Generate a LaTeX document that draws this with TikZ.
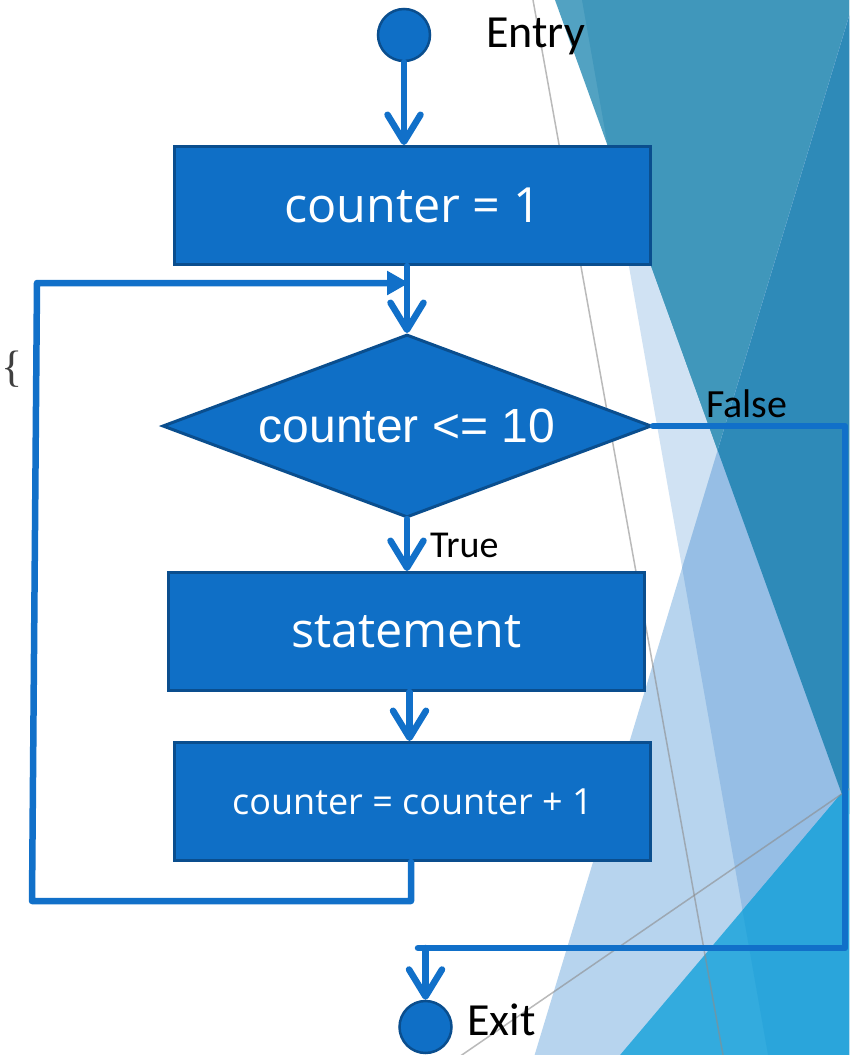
\documentclass[tikz,border=0pt]{standalone}
\usepackage{fontspec}
\setmainfont{Carlito}
\newfontfamily\arialf{Liberation Sans}
\newfontfamily\boxf{Open Sans}
\newfontfamily\seriff{Liberation Serif}
\usetikzlibrary{arrows.meta,shapes.geometric}
\definecolor{fillb}{HTML}{0F6FC6}
\definecolor{edgeb}{HTML}{0A4E8E}
\definecolor{lineb}{HTML}{1170C9}
\definecolor{paleP}{HTML}{D0E2F3}
\definecolor{tealA}{HTML}{52A2C2}
\definecolor{tealB}{HTML}{4097BB}
\definecolor{lbW}{HTML}{B7D4EE}
\definecolor{lbP}{HTML}{96BEE5}
\definecolor{tealD}{HTML}{2E8AB8}
\definecolor{cyW}{HTML}{33ABDE}
\definecolor{cyP}{HTML}{2AA5DB}
\definecolor{braceg}{HTML}{404040}
\begin{document}
\begin{tikzpicture}[x=1pt,y=-1pt,
  boxn/.style={draw=edgeb, line width=3pt, fill=fillb, text=white, inner sep=0pt,
    minimum width=476pt, minimum height=118pt, font=\boxf\fontsize{48.5}{48.5}\selectfont},
  circn/.style={circle, draw=edgeb, line width=2.5pt, fill=fillb, minimum size=52pt, inner sep=0pt},
  conn/.style={draw=lineb, line width=6.5pt, line cap=round, line join=round},
  vtip/.style={-{Straight Barb[length=27pt,width=33pt,round]}},
  ttip/.style={-{Triangle[length=22pt,width=23pt]}},
  lbl/.style={text=black, inner sep=0pt},
  grayln/.style={draw=black!45, opacity=0.6, line width=1.5pt}]
\useasboundingbox (0,0) rectangle (849,1055);
\fill[white] (0,0) rectangle (849,1055);
% background facets
\begin{scope}
\clip (0,0) rectangle (849,1055);
\def\Ppoly{(582,0)--(900,0)--(900,1100)--(776,1100)--cycle}
\def\Tpoly{(555,0)--(849,0)--(849,814)--cycle}
\def\Bpoly{(854,0)--(900,0)--(900,1100)--(521,1100)--cycle}
\def\Cpoly{(840,795)--(860,780)--(900,780)--(900,1100)--(582,1100)--cycle}
\fill[paleP] \Ppoly;
\fill[tealA] \Tpoly;
\begin{scope}\clip \Ppoly; \fill[tealB] \Tpoly; \end{scope}
\fill[lbW] \Bpoly;
\begin{scope}\clip \Ppoly; \fill[lbP] \Bpoly; \end{scope}
\begin{scope}\clip \Tpoly; \fill[tealD] \Bpoly; \end{scope}
\fill[cyW] \Cpoly;
\begin{scope}\clip \Ppoly; \fill[cyP] \Cpoly; \end{scope}
\draw[grayln] (533,0) -- (723,1055);
\draw[grayln] (849,789) -- (440,1070);
\end{scope}
% brace
\node[text=braceg, inner sep=0pt, anchor=west, font=\seriff\fontsize{44}{44}\selectfont] (brace) at (1.5,369) {\{};
% nodes
\node[circn] (entry) at (404,35) {};
\node[lbl, anchor=base west, font=\fontsize{46}{46}\selectfont] (entryl) at (486,47) {Entry};
\node[boxn] (b1) at (412.5,205.5) {counter = 1};
\node[draw=edgeb, line width=3pt, fill=fillb, diamond, shape aspect=2.67, minimum width=489pt, minimum height=183pt,
  inner sep=0pt, text=white, font=\arialf\fontsize{48}{48}\selectfont] (dia) at (407,426) {counter <= 10};
\node[boxn] (b2) at (406.5,631.5) {statement};
\node[boxn, font=\boxf\fontsize{36}{36}\selectfont] (b3) at (412.5,801.5) {counter = counter + 1};
\node[circn] (exit) at (425.5,1027) {};
\node[lbl, anchor=base west, font=\fontsize{40}{40}\selectfont] (falsel) at (706,417) {False};
\node[lbl, anchor=base west, font=\fontsize{38}{38}\selectfont] (truel) at (430,557) {True};
\node[lbl, anchor=base west, font=\fontsize{46}{46}\selectfont] (exitl) at (467,1035) {Exit};
% connectors
\draw[conn,vtip] (entry.south) -- (entry.south |- b1.north);
\coordinate (lA) at (411,901);
\coordinate (lB) at (32,901);
\coordinate (lC) at (37,283);
\coordinate (lD) at (409,283);
\draw[conn,ttip] ([xshift=-1.5pt]b3.south) -- (lA) -- (lB) -- (lC) -- (lD);
\draw[conn,vtip] (dia.north |- b1.south) -- (dia.north);
\draw[conn,vtip] (dia.south) -- (dia.south |- b2.north);
\draw[conn,vtip] ([xshift=3pt]b2.south) -- ([xshift=3pt]b2.south |- b3.north);
\coordinate (fA) at (845,426);
\coordinate (fB) at (845,948);
\coordinate (fC) at (418,948);
\draw[conn] (dia.east) -- (fA) -- (fB) -- (fC);
\draw[conn,vtip] (exit.north |- fC) -- (exit.north);
\end{tikzpicture}
\end{document}
